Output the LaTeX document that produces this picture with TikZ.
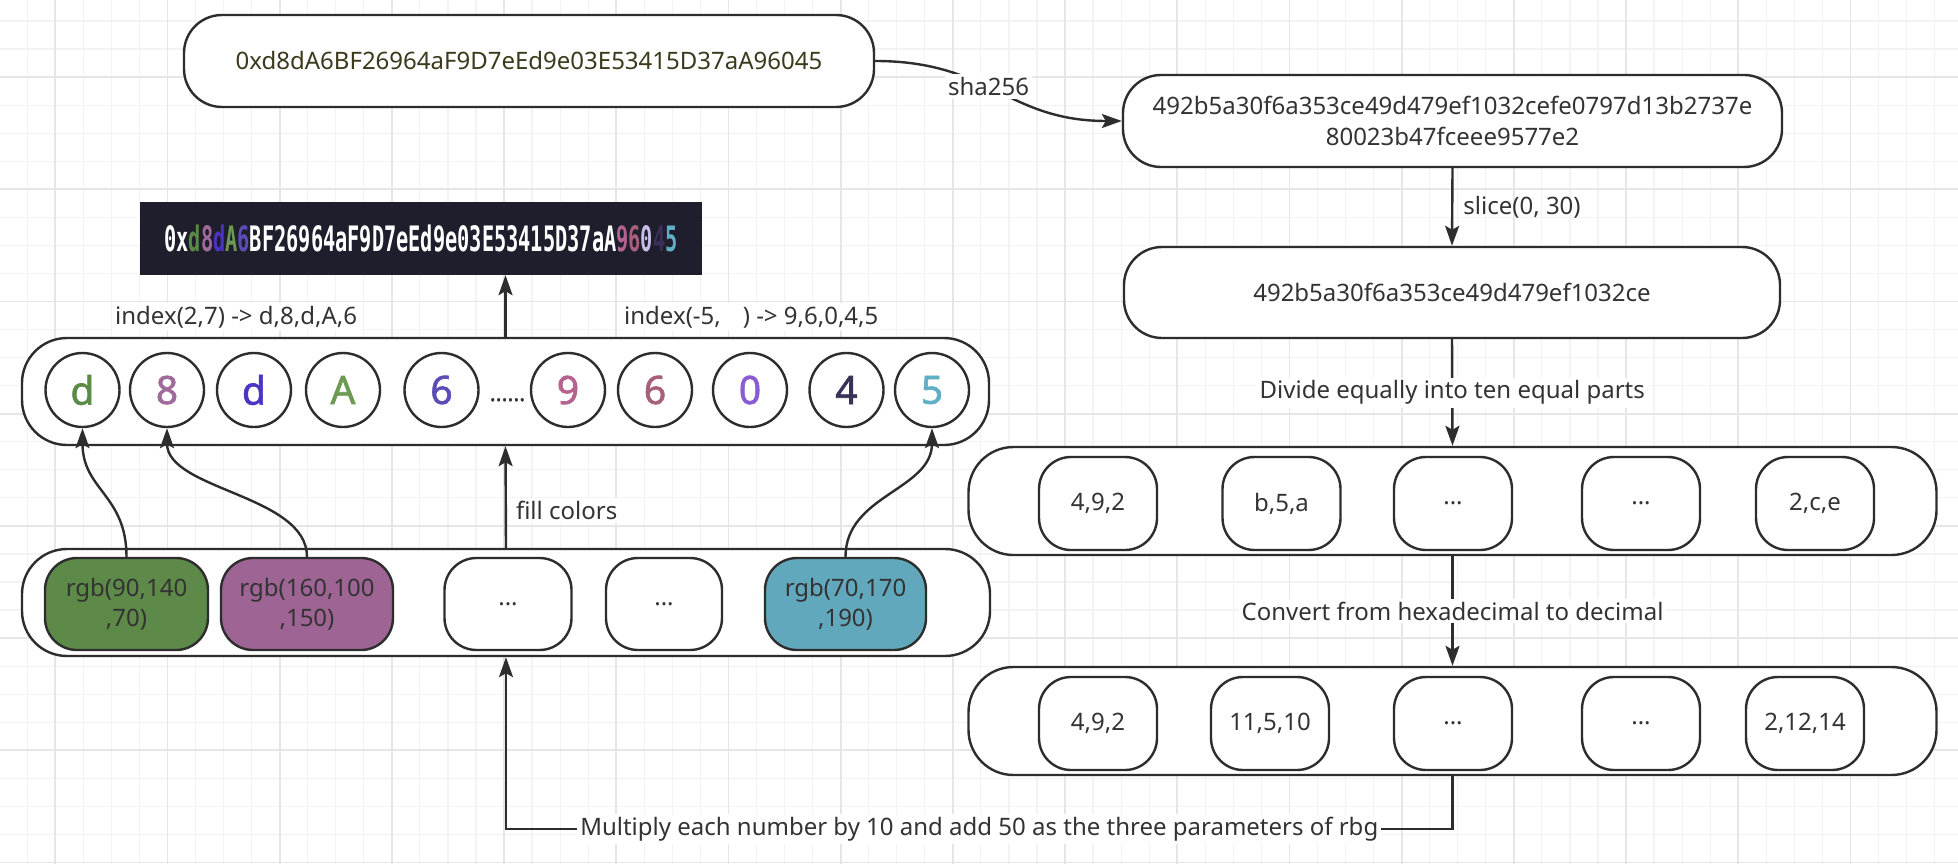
\documentclass[tikz,border=0pt]{standalone}
\usepackage{fontspec}
\setmainfont{Noto Sans}
\newfontfamily\bannerfont{DejaVu Sans Mono}
\newfontfamily\circfont{Noto Sans}[FakeBold=1.6]
\usetikzlibrary{arrows.meta}
\definecolor{gridminor}{RGB}{243,243,243}
\definecolor{gridmajor}{RGB}{230,230,230}
\definecolor{linec}{RGB}{45,45,45}
\definecolor{txt}{RGB}{51,51,51}
\definecolor{atext}{RGB}{60,57,28}
\definecolor{bannerbg}{RGB}{30,30,44}
\definecolor{cgreen}{RGB}{93,138,72}
\definecolor{cpurple}{RGB}{158,100,148}
\definecolor{cteal}{RGB}{98,168,188}
\definecolor{k1}{RGB}{91,140,70}
\definecolor{k2}{RGB}{160,106,154}
\definecolor{k3}{RGB}{75,51,196}
\definecolor{k4}{RGB}{109,154,82}
\definecolor{k5}{RGB}{91,77,184}
\definecolor{k6}{RGB}{181,98,143}
\definecolor{k7}{RGB}{166,96,124}
\definecolor{k8}{RGB}{138,92,212}
\definecolor{k9}{RGB}{58,49,88}
\definecolor{k10}{RGB}{95,175,198}
\definecolor{kz}{RGB}{200,189,232}
\begin{document}
\begin{tikzpicture}[x=1pt,y=-1pt,
  mainbox/.style={draw=linec,line width=2.4pt,fill=white,rounded corners=38pt,inner sep=0pt,align=center,text=txt,font=\fontsize{24}{31}\selectfont},
  rowbox/.style={mainbox,rounded corners=45pt},
  cellbox/.style={mainbox,rounded corners=32pt,font=\fontsize{24}{30}\selectfont},
  circnode/.style={draw=linec,line width=2.4pt,fill=white,circle,minimum size=74pt,inner sep=0pt,font=\circfont\fontsize{39}{39}\selectfont},
  arrowline/.style={draw=linec,line width=2.4pt,-{Stealth[length=20pt,width=14pt,inset=4pt]}},
  lbl/.style={fill=white,inner sep=3pt,text=txt,font=\fontsize{24}{30}\selectfont},
  minorg/.style={draw=gridminor,line width=1.2pt},
  majorg/.style={draw=gridmajor,line width=1.8pt}]
\useasboundingbox (0,0) rectangle (1958,864);
\fill[white] (0,0) rectangle (1958,864);
% grid
\foreach \i in {0,...,69} { \draw[minorg] ({-0.9+28.05*\i},0) -- ({-0.9+28.05*\i},864); }
\foreach \i in {0,...,30} { \draw[minorg] (0,{21.0+28.05*\i}) -- (1958,{21.0+28.05*\i}); }
\foreach \i in {0,...,16} { \draw[majorg] ({55.2+112.2*\i},0) -- ({55.2+112.2*\i},864); }
\foreach \i in {0,...,7} { \draw[majorg] (0,{77.1+112.2*\i}) -- (1958,{77.1+112.2*\i}); }

% right column
\node[mainbox,minimum width=690pt,minimum height=92pt,text=atext] (A) at (529,61) {0xd8dA6BF26964aF9D7eEd9e03E53415D37aA96045};
\node[mainbox,minimum width=659pt,minimum height=92pt] (B) at (1452.5,121) {492b5a30f6a353ce49d479ef1032cefe0797d13b2737e\\80023b47fceee9577e2};
\node[mainbox,minimum width=656pt,minimum height=91pt] (C) at (1452,292.5) {492b5a30f6a353ce49d479ef1032ce};

\node[rowbox,minimum width=968pt,minimum height=108pt] (D) at (1452.5,501) {};
\node[cellbox,minimum width=118pt,minimum height=93pt] (d1) at (1098,503.5) {4,9,2};
\node[cellbox,minimum width=118pt,minimum height=93pt] (d2) at (1281.5,503.5) {b,5,a};
\node[cellbox,minimum width=118pt,minimum height=93pt] (d3) at (1453,503.5) {...};
\node[cellbox,minimum width=118pt,minimum height=93pt] (d4) at (1641,503.5) {...};
\node[cellbox,minimum width=118pt,minimum height=93pt] (d5) at (1815,503.5) {2,c,e};

\node[rowbox,minimum width=968pt,minimum height=108pt] (E) at (1452.5,721) {};
\node[cellbox,minimum width=118pt,minimum height=93pt] (e1) at (1098,723.5) {4,9,2};
\node[cellbox,minimum width=118pt,minimum height=93pt] (e2) at (1270,723.5) {11,5,10};
\node[cellbox,minimum width=118pt,minimum height=93pt] (e3) at (1453,723.5) {...};
\node[cellbox,minimum width=118pt,minimum height=93pt] (e4) at (1641,723.5) {...};
\node[cellbox,minimum width=118pt,minimum height=93pt] (e5) at (1805,723.5) {2,12,14};

% banner
\node[fill=bannerbg,minimum width=562pt,minimum height=73pt,inner sep=0pt,text=white] (BN) at (421,238.5)
  {\scalebox{0.58}[1]{\bannerfont\bfseries\fontsize{35}{35}\selectfont 0x\textcolor{k1}{d}\textcolor{k2}{8}\textcolor{k3}{d}\textcolor{k4}{A}\textcolor{k5}{6}BF26964aF9D7eEd9e03E53415D37aA\textcolor{k6}{9}\textcolor{k7}{6}\textcolor{kz}{0}\textcolor{k9}{4}\textcolor{k10}{5}}};

% circle row
\node[rowbox,minimum width=967pt,minimum height=107pt] (CR) at (505.5,391.5) {};
\node[circnode,text=k1] (c1) at (82.5,390) {d};
\node[circnode,text=k2] (c2) at (167,390) {8};
\node[circnode,text=k3] (c3) at (254,390) {d};
\node[circnode,text=k4] (c4) at (343,390) {A};
\node[circnode,text=k5] (c5) at (441.5,390) {6};
\node[circnode,text=k6] (c6) at (568,390) {9};
\node[circnode,text=k7] (c7) at (655,390) {6};
\node[circnode,text=k8] (c8) at (750,390) {0};
\node[circnode,text=k9] (c9) at (846.5,390) {4};
\node[circnode,text=k10] (c10) at (932,390) {5};
\node[anchor=base,inner sep=0pt,text=txt,font=\circfont\fontsize{22}{22}\selectfont] (dots) at (507.5,401) {......};

% rgb row
\node[rowbox,minimum width=968pt,minimum height=107pt] (RR) at (506,602.5) {};
\node[cellbox,fill=cgreen,minimum width=163pt,minimum height=92pt] (r1) at (126.5,604) {rgb(90,140\\,70)};
\node[cellbox,fill=cpurple,minimum width=172pt,minimum height=92pt] (r2) at (307,604) {rgb(160,100\\,150)};
\node[cellbox,minimum width=127pt,minimum height=92pt] (r3) at (508,604) {...};
\node[cellbox,minimum width=116pt,minimum height=92pt] (r4) at (664,604) {...};
\node[cellbox,fill=cteal,minimum width=161pt,minimum height=92pt] (r5) at (845.5,604) {rgb(70,170\\,190)};

% labels above circle row
\node[lbl,anchor=west] (ix1) at (112,317) {index(2,7) -> d,8,d,A,6};
\node[lbl,anchor=west] (ix2) at (621,317) {index(-5,\hspace{22pt}) -> 9,6,0,4,5};

% connectors
\draw[arrowline] (A.east) .. controls +(115,0) and +(-115,0) .. (B.west) node[pos=0.45,lbl] (sha) {sha256};
\draw[arrowline] (B.south) -- (C.north) node[midway,right=7pt,lbl,fill=none] (sl) {slice(0, 30)};
\draw[arrowline] (C.south) -- (D.north) node[midway,lbl] (dv) {Divide equally into ten equal parts};
\draw[arrowline] (D.south) -- (E.north) node[midway,lbl] (cv) {Convert from hexadecimal to decimal};
\coordinate (bend) at (1452.5,829);
\draw[arrowline] (E.south) -- (bend) -| (RR.south) node[pos=0.25,lbl] (mu) {Multiply each number by 10 and add 50 as the three parameters of rbg};
\draw[arrowline] (RR.north) -- (CR.south) node[pos=0.37,right=6pt,lbl] (fc) {fill colors};
\draw[arrowline] (CR.north) -- (CR.north |- BN.south);
\draw[arrowline] (r1.north) .. controls +(0,-62) and +(0,62) .. (c1.south);
\draw[arrowline] (r2.north) .. controls +(0,-62) and +(0,62) .. (c2.south);
\draw[arrowline] (r5.north) .. controls +(0,-62) and +(0,62) .. (c10.south);
\end{tikzpicture}
\end{document}
